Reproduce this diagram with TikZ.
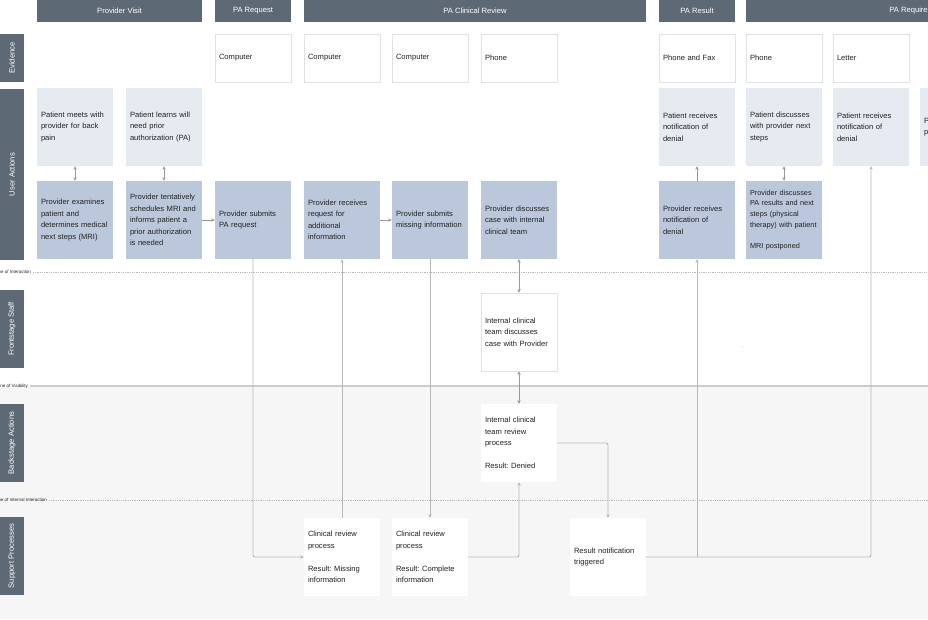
\documentclass[tikz,border=0pt]{standalone}
\usepackage{fontspec}
\setmainfont{Liberation Sans}
\usetikzlibrary{arrows.meta}
\definecolor{hdr}{HTML}{5E6976}
\definecolor{ptc}{HTML}{E6EAF1}
\definecolor{pvc}{HTML}{BBC8DB}
\definecolor{bgc}{HTML}{F6F6F6}
\definecolor{bdc}{HTML}{E2E2E2}
\definecolor{lnc}{HTML}{B8B8B8}
\definecolor{txc}{HTML}{222222}
\frenchspacing
\begin{document}
\begin{tikzpicture}[x=1pt,y=-1pt,
  txt/.style={font=\fontsize{7.6}{11.5}\selectfont, text=txc},
  box/.style={txt, minimum width=76pt, minimum height=78pt, text width=68pt, inner xsep=4pt, inner ysep=0pt, align=left},
  evbox/.style={box, minimum height=48pt, draw=bdc, line width=0.6pt, fill=white},
  ptbox/.style={box, fill=ptc},
  pvbox/.style={box, fill=pvc},
  whbox/.style={box, fill=white},
  fsbox/.style={box, fill=white, draw=bdc, line width=0.6pt},
  hdrbox/.style={fill=hdr, text=white, minimum height=22pt, inner sep=0pt, font=\fontsize{7.6}{9}\selectfont},
  lanebox/.style={fill=hdr, text=white, rotate=90, minimum height=24pt, inner sep=0pt, font=\fontsize{7.6}{9}\selectfont},
  linelbl/.style={font=\fontsize{4.5}{5}\selectfont, text=txc, inner sep=0pt},
  dotline/.style={draw=lnc, line width=0.6pt, dash pattern=on 0.8pt off 1pt},
  visline/.style={draw=black!20, line width=1.3pt},
  conn/.style={draw=lnc, line width=0.9pt, rounded corners=2pt},
  tip/.style={-{Stealth[length=3.6pt,width=3.4pt]}},
  dtip/.style={{Stealth[length=3.6pt,width=3.4pt]}-{Stealth[length=3.6pt,width=3.4pt]}},
  sconn/.style={draw=black!40, line width=0.6pt}
]
\useasboundingbox (0,0) rectangle (928,619);
\clip (0,0) rectangle (928,619);
\fill[bgc] (0,386) rectangle (928,619);

% lines between lanes
\node[linelbl, anchor=east] (lint) at (31,272) {Line of Interaction};
\coordinate (linte) at (928,272);
\draw[dotline] (lint.east) ++(2,0) -- (linte);
\node[linelbl, anchor=east] (lvis) at (28,386) {Line of Visibility};
\coordinate (lvise) at (928,386);
\draw[visline] (lvis.east) ++(2,0) -- (lvise);
\node[linelbl, anchor=east] (lii) at (47,500) {Line of Internal Interaction};
\coordinate (liie) at (928,500);
\draw[dotline] (lii.east) ++(2,0) -- (liie);

% headers
\node[hdrbox, minimum width=165pt] (h1) at (119.5,11) {Provider Visit};
\node[hdrbox, minimum width=76pt] (h2) at (253,11) {PA Request};
\node[hdrbox, minimum width=342pt] (h3) at (475,11) {PA Clinical Review};
\node[hdrbox, minimum width=76pt] (h4) at (697,11) {PA Result};
\node[hdrbox, minimum width=342pt] (h5) at (917,11) {PA Requirement};

% lane labels
\node[lanebox, minimum width=48pt] (l1) at (12,58) {Evidence};
\node[lanebox, minimum width=171pt] (l2) at (12,174.5) {User Actions};
\node[lanebox, minimum width=78pt] (l3) at (12,329) {Frontstage Staff};
\node[lanebox, minimum width=78pt] (l4) at (12,443) {Backstage Actions};
\node[lanebox, minimum width=78pt] (l5) at (12,556) {Support Processes};

% evidence
\node[evbox] (e3) at (253,58) {Computer};
\node[evbox] (e4) at (342,58) {Computer};
\node[evbox] (e5) at (430,58) {Computer};
\node[evbox] (e6) at (519,58) {Phone};
\node[evbox] (e8) at (697,58) {Phone and Fax};
\node[evbox] (e9) at (784,58) {Phone};
\node[evbox] (e10) at (871,58) {Letter};

% patient actions
\node[ptbox] (pt1) at (75,127) {Patient meets with\\provider for back\\pain};
\node[ptbox] (pt2) at (164,127) {Patient learns will\\need prior\\authorization (PA)};
\node[ptbox] (pt8) at (697,127) {Patient receives\\notification of\\denial};
\node[ptbox] (pt9) at (784,127) {Patient discusses\\with provider next\\steps};
\node[ptbox] (pt10) at (871,127) {Patient receives\\notification of\\denial};
\node[ptbox] (pt11) at (958,127) {P\\p};

% provider actions
\node[pvbox] (p1) at (75,220) {Provider examines\\patient and\\determines medical\\next steps (MRI)};
\node[pvbox] (p2) at (164,220) {Provider tentatively\\schedules MRI and\\informs patient a\\prior authorization\\is needed};
\node[pvbox] (p3) at (253,220) {Provider submits\\PA request};
\node[pvbox] (p4) at (342,220) {Provider receives\\request for\\additional\\information};
\node[pvbox] (p5) at (430,220) {Provider submits\\missing information};
\node[pvbox] (p6) at (519,220) {Provider discusses\\case with internal\\clinical team};
\node[pvbox] (p8) at (697,220) {Provider receives\\notification of\\denial};
\node[pvbox, font=\fontsize{7.3}{10.6}\selectfont] (p9) at (784,220) {Provider discusses\\PA results and next\\steps (physical\\therapy) with patient\\[10.6pt]MRI postponed};

% frontstage / backstage / support
\node[fsbox] (f6) at (519,332) {Internal clinical\\team discusses\\case with Provider};
\node[whbox] (b6) at (519,443) {Internal clinical\\team review\\process\\[11.5pt]Result: Denied};
\node[whbox] (s4) at (342,557) {Clinical review\\process\\[11.5pt]Result: Missing\\information};
\node[whbox] (s5) at (430,557) {Clinical review\\process\\[11.5pt]Result: Complete\\information};
\node[whbox] (s7) at (608,557) {Result notification\\triggered};

\node[font=\fontsize{4}{4}\selectfont, text=black!50, inner sep=0pt] (dots) at (743,347) {:};

% short connectors
\draw[sconn, dtip] (pt1) -- (p1);
\draw[sconn, dtip] (pt2) -- (p2);
\draw[sconn, tip] (p2) -- (p3);
\draw[sconn, tip] (p4) -- (p5);
\draw[sconn, dtip] (p6) -- (f6);
\draw[sconn, dtip] (f6) -- (b6);
\draw[sconn, tip] (p8) -- (pt8);
\draw[sconn, dtip] (pt9) -- (p9);

% long connectors
\draw[conn, tip] (p3.south) |- (s4.west);
\draw[conn, tip] (s4.north) -- (p4.south);
\draw[conn, tip] (p5.south) -- (s5.north);
\draw[conn, tip] (s5.east) -| (b6.south);
\draw[conn, tip] (b6.east) -| (s7.north);
\coordinate (j8) at (p8.south |- s7.east);
\draw[conn, tip] (s7.east) -| (pt10.south);
\draw[conn, tip] (j8) -- (p8.south);
\end{tikzpicture}
\end{document}
